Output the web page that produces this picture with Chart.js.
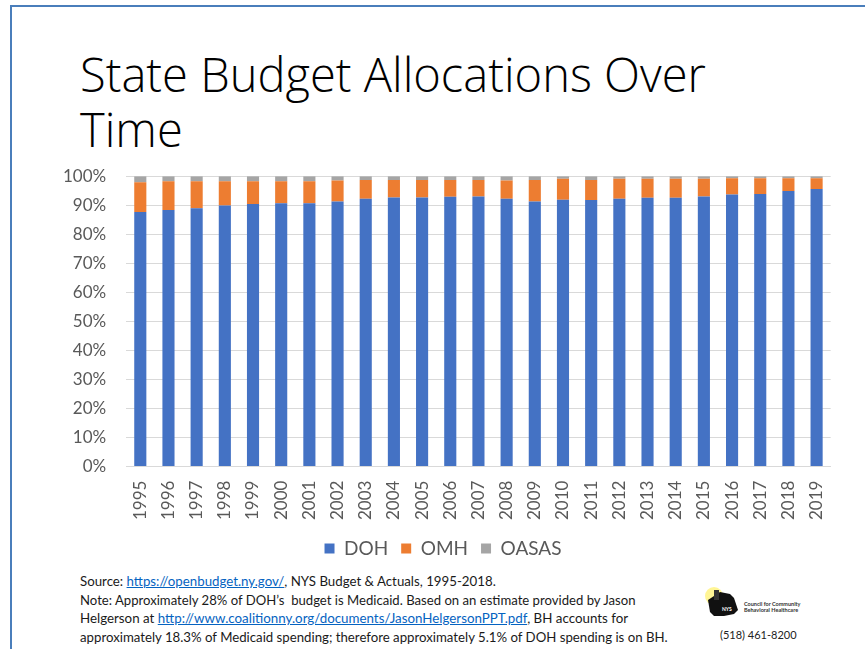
<!DOCTYPE html>
<html>
<head>
<meta charset="utf-8">
<script src="https://cdn.jsdelivr.net/npm/chart.js@4"></script>
<style>
  html, body { margin: 0; padding: 0; background: #fff; }
  body { width: 865px; height: 649px; position: relative; overflow: hidden; font-family: Lato, "Open Sans", sans-serif; }
  #frame { position: absolute; left: 10px; top: 5px; width: 900px; height: 700px; border-left: 2px solid #4a7ebb; border-top: 2px solid #4a7ebb; }
  #title { position: absolute; left: 80px; top: 47px; font-family: "Open Sans", Lato, sans-serif; font-weight: 300; color: #000; line-height: 55px; white-space: nowrap; }
  #title div { display: block; }
  #wrap { position: absolute; left: 43px; top: 146px; width: 800px; height: 422px; }
  #notes { position: absolute; left: 80px; top: 572px; color: #1a1a1a; line-height: 18.5px; white-space: nowrap; }
  #notes div { white-space: nowrap; }
  #notes a { color: #0563C1; text-decoration: underline; }
  #phone { position: absolute; left: 720px; top: 628px; font-size: 11px; color: #222; white-space: nowrap; }
  #logo { position: absolute; left: 700px; top: 586px; }
</style>
</head>
<body>
<div id="frame"></div>
<div id="title"><div class="fit" data-w="626">State Budget Allocations Over</div><div>Time</div></div>
<div id="wrap"><canvas id="c" width="800" height="422"></canvas></div>
<div id="notes">
  <div class="fitn" data-w="416">Source: <a>https://openbudget.ny.gov/</a>, NYS Budget &amp; Actuals, 1995-2018.</div>
  <div class="fitn" data-w="556">Note: Approximately 28% of DOH’s&nbsp; budget is Medicaid. Based on an estimate provided by Jason</div>
  <div class="fitn" data-w="548">Helgerson at <a>http://www.coalitionny.org/documents/JasonHelgersonPPT.pdf</a>, BH accounts for</div>
  <div class="fitn" data-w="588">approximately 18.3% of Medicaid spending; therefore approximately 5.1% of DOH spending is on BH.</div>
</div>
<svg id="logo" width="125" height="36" viewBox="0 0 125 36">
  <circle cx="14" cy="10" r="9" fill="#fff27a" opacity="0.8"/>
  <path d="M8 14 L20 6 L30 8 L34 12 L38 24 L34 28 L24 30 L14 30 L10 26 Z" fill="#111"/>
  <rect x="14" y="4" width="5" height="10" fill="#333"/>
  <text x="22" y="25" font-size="5" fill="#fff" font-family="Lato" font-weight="bold">NYS</text>
  <text x="44" y="20" font-size="5.5" fill="#333" font-family="Lato" font-weight="bold">Council for Community</text>
  <text x="44" y="26" font-size="5.5" fill="#333" font-family="Lato" font-weight="bold">Behavioral Healthcare</text>
</svg>
<div id="phone">(518) 461-8200</div>
<script>
const years = ["1995","1996","1997","1998","1999","2000","2001","2002","2003","2004","2005","2006","2007","2008","2009","2010","2011","2012","2013","2014","2015","2016","2017","2018","2019"];
const doh   = [87.7, 88.4, 89.0, 89.9, 90.4, 90.7, 90.7, 91.3, 92.2, 92.7, 92.7, 92.9, 93.0, 92.2, 91.3, 91.9, 91.8, 92.2, 92.6, 92.6, 93.0, 93.7, 93.9, 94.9, 95.6];
const omh   = [10.2, 9.9, 9.3, 8.4, 7.9, 7.6, 7.6, 7.2, 6.5, 6.0, 6.0, 5.8, 5.7, 6.3, 7.4, 7.2, 6.9, 6.9, 6.5, 6.5, 6.1, 5.6, 5.4, 4.4, 3.7];
const oasas = [2.1, 1.7, 1.7, 1.7, 1.7, 1.7, 1.7, 1.5, 1.3, 1.3, 1.3, 1.3, 1.3, 1.5, 1.3, 0.9, 1.3, 0.9, 0.9, 0.9, 0.9, 0.7, 0.7, 0.7, 0.7];
const yTicks = [0, 10, 20, 30, 40, 50, 60, 70, 80, 90, 100];

const title = document.getElementById('title');
title.style.fontSize = '50px';
const tl = title.querySelector('.fit');
tl.style.display = 'inline-block';
let tw = tl.getBoundingClientRect().width;
title.style.fontSize = (50 * 626 / tw).toFixed(2) + 'px';
tl.style.display = 'block';

document.querySelectorAll('.fitn').forEach(el => {
  el.style.fontSize = '13px';
  el.style.display = 'inline-block';
  const w = el.getBoundingClientRect().width;
  el.style.fontSize = (13 * parseFloat(el.dataset.w) / w).toFixed(2) + 'px';
  el.style.display = 'block';
});

const grey = '#595959';
new Chart(document.getElementById('c'), {
  type: 'bar',
  data: {
    labels: years,
    datasets: [
      { label: 'DOH', data: doh, backgroundColor: '#4472C4' },
      { label: 'OMH', data: omh, backgroundColor: '#ED7D31' },
      { label: 'OASAS', data: oasas, backgroundColor: '#A5A5A5' }
    ]
  },
  options: {
    responsive: false,
    animation: false,
    layout: { padding: { left: 0, right: 0, top: 0, bottom: 0 } },
    datasets: { bar: { categoryPercentage: 1.0, barPercentage: 0.43 } },
    plugins: {
      tooltip: { enabled: false },
      legend: {
        position: 'bottom',
        labels: { boxWidth: 10, boxHeight: 10, color: grey, font: { family: 'Lato', size: 19 }, padding: 13 }
      }
    },
    scales: {
      x: {
        stacked: true,
        grid: { display: false },
        border: { color: '#d9d9d9' },
        ticks: { color: grey, font: { family: 'Lato', size: 17 }, minRotation: 90, maxRotation: 90, padding: 6 }
      },
      y: {
        stacked: true,
        min: 0, max: 100,
        afterBuildTicks: ax => { ax.ticks = yTicks.map(v => ({ value: v })); },
        grid: { color: '#d9d9d9', drawTicks: false },
        border: { display: false },
        ticks: { color: grey, font: { family: 'Lato', size: 17 }, padding: 20, callback: v => v + '%' }
      }
    }
  }
});
</script>
</body>
</html>
